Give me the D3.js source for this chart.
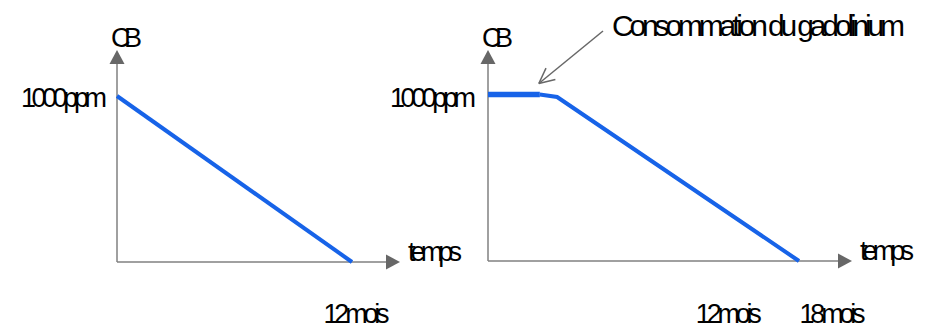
<!DOCTYPE html>
<html>
<head>
<meta charset="utf-8">
<script src="https://cdn.jsdelivr.net/npm/d3@7"></script>
<style>
  html, body { margin: 0; padding: 0; background: #fff; }
  svg { display: block; }
  text { font-family: "Liberation Sans", Arial, sans-serif; fill: #000; }
</style>
</head>
<body>
<svg id="chart" width="940" height="329"></svg>
<script>
// ---- data ----
const yLabel = "CB";
const xLabel = "temps";
const yTickValues = [1000];
const yTickUnit = "ppm";
const xTickUnit = "mois";
const leftXTicks = [12];
const rightXTicks = [12, 18];
const leftMonths = [0, 12];
const leftPpm = [1000, 0];
const rightFlatMonths = [0, 3];
const rightFlatPpm = [1000, 1000];
const rightDeclineMonths = [3, 4, 18];
const rightDeclinePpm = [1000, 985, 0];
const annotationText = "Consommation du gadolinium";
const annotationMonth = 3;
const annotationPpm = 1000;

// ---- styles ----
const blue = "#1763e8";
const axisGray = "#808080";
const headGray = "#676767";
const fontSize = 27;
const ff = '"Liberation Sans", Arial, sans-serif';

const svg = d3.select("#chart");

function arrowHead(g, tipX, tipY, dir) {
  const Lh = 14, W = 7.5;
  let pts;
  if (dir === "up") pts = [[tipX, tipY], [tipX - W, tipY + Lh], [tipX + W, tipY + Lh]];
  else pts = [[tipX, tipY], [tipX - Lh, tipY - W], [tipX - Lh, tipY + W]];
  g.append("path").attr("d", d3.line()(pts) + "Z").attr("fill", headGray);
}

function panel(cfg) {
  const x = d3.scaleLinear().domain(cfg.xDomain).range(cfg.xRange);
  const y = d3.scaleLinear().domain([0, 1000]).range(cfg.yRange);
  const g = svg.append("g");

  g.append("line").attr("x1", x(0)).attr("x2", cfg.xTip - 12)
    .attr("y1", y(0)).attr("y2", y(0)).attr("stroke", axisGray).attr("stroke-width", 1.5);
  g.append("line").attr("x1", x(0)).attr("x2", x(0))
    .attr("y1", y(0)).attr("y2", cfg.yTip + 12).attr("stroke", axisGray).attr("stroke-width", 1.5);
  arrowHead(g, cfg.xTip, y(0), "right");
  arrowHead(g, x(0), cfg.yTip, "up");

  const ya = g.append("g").attr("transform", `translate(${x(0)},0)`)
    .call(d3.axisLeft(y).tickValues(yTickValues).tickSize(0).tickPadding(cfg.yPad)
      .tickFormat(d => d + yTickUnit));
  ya.select(".domain").remove();
  ya.selectAll("text").attr("font-size", fontSize).attr("dy", cfg.yDy)
    .attr("font-family", ff).attr("fill", "#000")
    .attr("textLength", 86).attr("lengthAdjust", "spacing");

  const xa = g.append("g").attr("transform", `translate(0,${y(0)})`)
    .call(d3.axisBottom(x).tickValues(cfg.xTicks).tickSize(0).tickPadding(cfg.xPad)
      .tickFormat(d => d + xTickUnit));
  xa.select(".domain").remove();
  xa.selectAll("text").attr("font-size", fontSize)
    .attr("font-family", ff).attr("fill", "#000")
    .attr("text-anchor", cfg.xAnchor).attr("dx", cfg.xDx)
    .attr("textLength", 66).attr("lengthAdjust", "spacing");

  g.append("text").attr("x", x(0) - 6).attr("y", 47).attr("font-size", fontSize)
    .attr("textLength", 31).attr("lengthAdjust", "spacing").text(yLabel);
  g.append("text").attr("x", cfg.xTip + 8).attr("y", y(0) - 1).attr("font-size", fontSize)
    .attr("textLength", 54).attr("lengthAdjust", "spacing").text(xLabel);

  return { g, x, y };
}

const L = panel({ xDomain: [0, 12], xRange: [117, 352], yRange: [262, 96],
  xTip: 400, yTip: 50, yPad: 10, yDy: "0.4em", xPad: 42, xTicks: leftXTicks, xAnchor: "middle", xDx: 4 });
L.g.append("path")
  .datum(leftMonths.map((m, i) => [m, leftPpm[i]]))
  .attr("d", d3.line().x(d => L.x(d[0])).y(d => L.y(d[1])))
  .attr("fill", "none").attr("stroke", blue).attr("stroke-width", 4);

const R = panel({ xDomain: [0, 18], xRange: [488, 799], yRange: [261, 94.5],
  xTip: 852, yTip: 50, yPad: 12, yDy: "0.45em", xPad: 43, xTicks: rightXTicks, xAnchor: "start", xDx: 0 });
R.g.append("path")
  .datum(rightFlatMonths.map((m, i) => [m, rightFlatPpm[i]]))
  .attr("d", d3.line().x(d => R.x(d[0])).y(d => R.y(d[1])))
  .attr("fill", "none").attr("stroke", blue).attr("stroke-width", 5.5);
R.g.append("path")
  .datum(rightDeclineMonths.map((m, i) => [m, rightDeclinePpm[i]]))
  .attr("d", d3.line().x(d => R.x(d[0])).y(d => R.y(d[1])))
  .attr("fill", "none").attr("stroke", blue).attr("stroke-width", 4);

const tipX = R.x(annotationMonth) - 1, tipY = R.y(annotationPpm) - 11;
const startX = 603, startY = 31;
const ann = svg.append("g");
ann.append("line").attr("x1", startX).attr("y1", startY).attr("x2", tipX).attr("y2", tipY)
  .attr("stroke", headGray).attr("stroke-width", 1.5);
const ang = Math.atan2(startY - tipY, startX - tipX);
[0.45, -0.45].forEach(a => {
  ann.append("line").attr("x1", tipX).attr("y1", tipY)
    .attr("x2", tipX + 17 * Math.cos(ang + a)).attr("y2", tipY + 17 * Math.sin(ang + a))
    .attr("stroke", headGray).attr("stroke-width", 1.5);
});
ann.append("text").attr("x", 612).attr("y", 36).attr("font-size", 30)
  .attr("textLength", 293).attr("lengthAdjust", "spacing").text(annotationText);
</script>
</body>
</html>
